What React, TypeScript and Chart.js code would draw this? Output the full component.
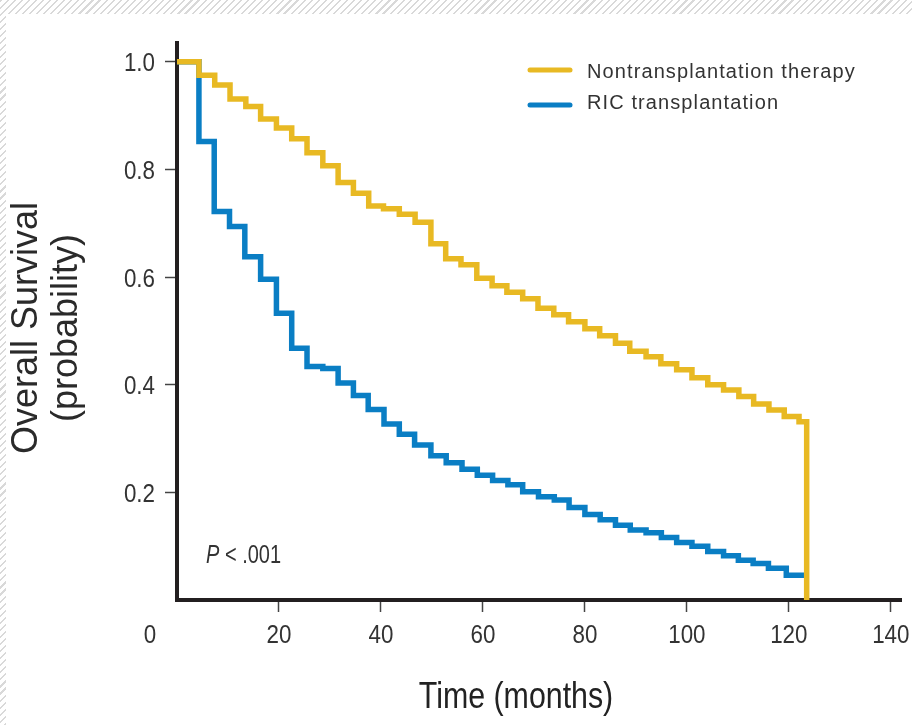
import React, { useEffect, useRef } from "react";
import { Chart, registerables } from "chart.js";

Chart.register(...registerables);

// ---- Data ----
const seriesNames = ["Nontransplantation therapy", "RIC transplantation"];
const seriesColors = ["#E8B923", "#0A7EC4"];

const nonTransplantTimes = [
  0, 4.3, 7.4, 10.4, 13.5, 16.4, 19.5, 22.5, 25.5, 28.6, 31.6, 34.6, 37.6, 40.5,
  43.6, 46.7, 49.8, 52.7, 55.7, 58.8, 61.8, 64.7, 67.8, 70.8, 73.9, 76.8, 80.0,
  82.9, 86.0, 88.8, 92.0, 94.9, 98.0, 101.0, 104.1, 107.2, 110.2, 113.1, 116.1,
  119.1, 122.0, 123.5,
];
const nonTransplantSurvival = [
  1.0, 0.975, 0.957, 0.931, 0.917, 0.894, 0.877, 0.857, 0.831, 0.807, 0.776,
  0.756, 0.732, 0.727, 0.717, 0.702, 0.662, 0.634, 0.623, 0.598, 0.584, 0.572,
  0.56, 0.542, 0.53, 0.517, 0.504, 0.491, 0.477, 0.462, 0.452, 0.439, 0.428,
  0.413, 0.4, 0.39, 0.378, 0.364, 0.353, 0.341, 0.331, 0,
];

const ricTimes = [
  0, 4.3, 7.3, 10.3, 13.3, 16.4, 19.5, 22.5, 25.5, 28.6, 31.6, 34.6, 37.5, 40.6,
  43.6, 46.6, 49.8, 52.8, 55.9, 58.9, 61.9, 64.9, 67.8, 70.9, 74.0, 76.9, 80.0,
  83.0, 86.0, 88.9, 92.0, 95.0, 98.0, 101.0, 104.1, 107.2, 110.1, 113.0, 116.0,
  119.5, 123.2,
];
const ricSurvival = [
  1.0, 0.852, 0.722, 0.694, 0.638, 0.596, 0.533, 0.468, 0.434, 0.43, 0.403,
  0.38, 0.354, 0.327, 0.308, 0.288, 0.268, 0.255, 0.243, 0.232, 0.222, 0.214,
  0.201, 0.192, 0.186, 0.172, 0.159, 0.149, 0.139, 0.13, 0.125, 0.116, 0.107,
  0.1, 0.09, 0.082, 0.074, 0.068, 0.059, 0.046, 0.046,
];

const xTickStep = 20;
const xMin = 0;
const xMax = 142;
const yTickStep = 0.2;
const yMin = 0;
const yMax = 1.035;

const xTitle = "Time (months)";
const yTitleLines = ["Overall Survival", "(probability)"];
const pValueLabel = ["P", " < .001"];
const originLabel = "0";

const FONT_REG = "'Liberation Sans', Arial, Helvetica, sans-serif";
const TEXT_COLOR = "#333333";
const AXIS_COLOR = "#231F20";

const toPoints = (xs: number[], ys: number[]) =>
  xs.map((x, i) => ({ x, y: ys[i] }));

// draws horizontally condensed text (the reference uses a condensed face)
function condensedText(
  ctx: CanvasRenderingContext2D,
  text: string,
  x: number,
  y: number,
  align: CanvasTextAlign,
  sx: number
) {
  ctx.save();
  ctx.translate(x, y);
  ctx.scale(sx, 1);
  ctx.textAlign = align;
  ctx.fillText(text, 0, 0);
  ctx.restore();
}

const annotationPlugin = {
  id: "kmAnnotations",
  afterDraw(chart: any) {
    const ctx = chart.ctx as CanvasRenderingContext2D;
    const xs = chart.scales.x;
    const ys = chart.scales.y;
    ctx.save();
    ctx.textBaseline = "alphabetic";

    // tick labels from the library's scales
    ctx.fillStyle = TEXT_COLOR;
    ctx.font = `26px ${FONT_REG}`;
    xs.ticks.forEach((t: any) => {
      if (t.value === 0) return;
      condensedText(ctx, String(t.value), xs.getPixelForValue(t.value), ys.bottom + 43, "center", 0.86);
    });
    ys.ticks.forEach((t: any) => {
      if (t.value === 0) return;
      condensedText(ctx, Number(t.value).toFixed(1), xs.left - 22, ys.getPixelForValue(t.value) + 9.5, "right", 0.86);
    });
    // origin "0" label
    condensedText(ctx, originLabel, xs.getPixelForValue(0) - 27, ys.bottom + 43, "center", 0.86);

    // x axis title
    ctx.fillStyle = "#222";
    ctx.font = `37px ${FONT_REG}`;
    condensedText(ctx, xTitle, 516, 708, "center", 0.82);

    // y axis title (two lines, rotated)
    ctx.fillStyle = "#2a2a2a";
    ctx.font = `36px ${FONT_REG}`;
    const yCenter = 328;
    const baselines = [37, 77];
    yTitleLines.forEach((line, i) => {
      ctx.save();
      ctx.translate(baselines[i], yCenter);
      ctx.rotate(-Math.PI / 2);
      ctx.textAlign = "center";
      ctx.fillText(line, 0, 0);
      ctx.restore();
    });

    // P value
    ctx.fillStyle = TEXT_COLOR;
    const px = 206;
    const py = 563;
    ctx.font = `italic 25px ${FONT_REG}`;
    condensedText(ctx, pValueLabel[0], px, py, "left", 0.8);
    const pw = ctx.measureText(pValueLabel[0]).width * 0.8;
    ctx.font = `25px ${FONT_REG}`;
    condensedText(ctx, pValueLabel[1], px + pw, py, "left", 0.8);

    // legend
    const legendY = [70, 105];
    const textY = [72, 103];
    seriesNames.forEach((name, i) => {
      ctx.strokeStyle = seriesColors[i];
      ctx.lineWidth = 5;
      ctx.lineCap = "round";
      ctx.beginPath();
      ctx.moveTo(530, legendY[i]);
      ctx.lineTo(570, legendY[i]);
      ctx.stroke();
      ctx.fillStyle = TEXT_COLOR;
      ctx.font = `20px ${FONT_REG}`;
      (ctx as any).letterSpacing = "1.1px";
      ctx.textAlign = "left";
      ctx.textBaseline = "middle";
      ctx.fillText(name, 587, textY[i]);
      (ctx as any).letterSpacing = "0px";
    });

    ctx.restore();
  },
};

export default function App() {
  const canvasRef = useRef<HTMLCanvasElement | null>(null);

  useEffect(() => {
    document.body.style.margin = "0";
    const canvas = canvasRef.current;
    if (!canvas) return;

    const hideZero = (c: any) =>
      c.tick && c.tick.value === 0 ? "rgba(0,0,0,0)" : "#444";

    const chart = new Chart(canvas, {
      type: "line",
      data: {
        datasets: [
          {
            label: seriesNames[0],
            data: toPoints(nonTransplantTimes, nonTransplantSurvival),
            borderColor: seriesColors[0],
            backgroundColor: seriesColors[0],
            borderWidth: 5.5,
            stepped: "before",
            pointRadius: 0,
            fill: false,
            borderCapStyle: "butt",
            borderJoinStyle: "miter",
          },
          {
            label: seriesNames[1],
            data: toPoints(ricTimes, ricSurvival),
            borderColor: seriesColors[1],
            backgroundColor: seriesColors[1],
            borderWidth: 5.5,
            stepped: "before",
            pointRadius: 0,
            fill: false,
            borderCapStyle: "butt",
            borderJoinStyle: "miter",
          },
        ],
      },
      options: {
        animation: false,
        responsive: false,
        maintainAspectRatio: false,
        layout: { padding: { top: 43, right: 11, bottom: 0, left: 0 } },
        plugins: {
          legend: { display: false },
          tooltip: { enabled: false },
          title: { display: false },
        },
        scales: {
          x: {
            type: "linear",
            min: xMin,
            max: xMax,
            afterFit: (s: any) => {
              s.height = 125;
            },
            border: { display: true, color: AXIS_COLOR, width: 4 },
            grid: {
              display: true,
              drawOnChartArea: false,
              drawTicks: true,
              tickLength: 12,
              tickWidth: 1.5,
              tickColor: hideZero,
              color: hideZero,
            },
            ticks: {
              display: false,
              stepSize: xTickStep,
              includeBounds: false,
              autoSkip: false,
            },
          },
          y: {
            type: "linear",
            min: yMin,
            max: yMax,
            afterFit: (s: any) => {
              s.width = 177;
            },
            border: { display: true, color: AXIS_COLOR, width: 4 },
            grid: {
              display: true,
              drawOnChartArea: false,
              drawTicks: true,
              tickLength: 12,
              tickWidth: 1.5,
              tickColor: hideZero,
              color: hideZero,
            },
            ticks: {
              display: false,
              stepSize: yTickStep,
              includeBounds: false,
              autoSkip: false,
            },
          },
        },
      },
      plugins: [annotationPlugin],
    } as any);

    return () => chart.destroy();
  }, []);

  return (
    <div
      style={{
        position: "fixed",
        left: 0,
        top: 0,
        width: 912,
        height: 725,
        overflow: "hidden",
        background:
          "repeating-linear-gradient(135deg, #d9d9d9 0px, #d9d9d9 1.5px, #ffffff 1.5px, #ffffff 5px)",
      }}
    >
      <div
        style={{
          position: "absolute",
          left: 6,
          top: 14,
          right: 0,
          bottom: 0,
          background: "#ffffff",
        }}
      />
      <canvas
        ref={canvasRef}
        width={912}
        height={725}
        style={{ position: "absolute", left: 0, top: 0, width: 912, height: 725 }}
      />
    </div>
  );
}
